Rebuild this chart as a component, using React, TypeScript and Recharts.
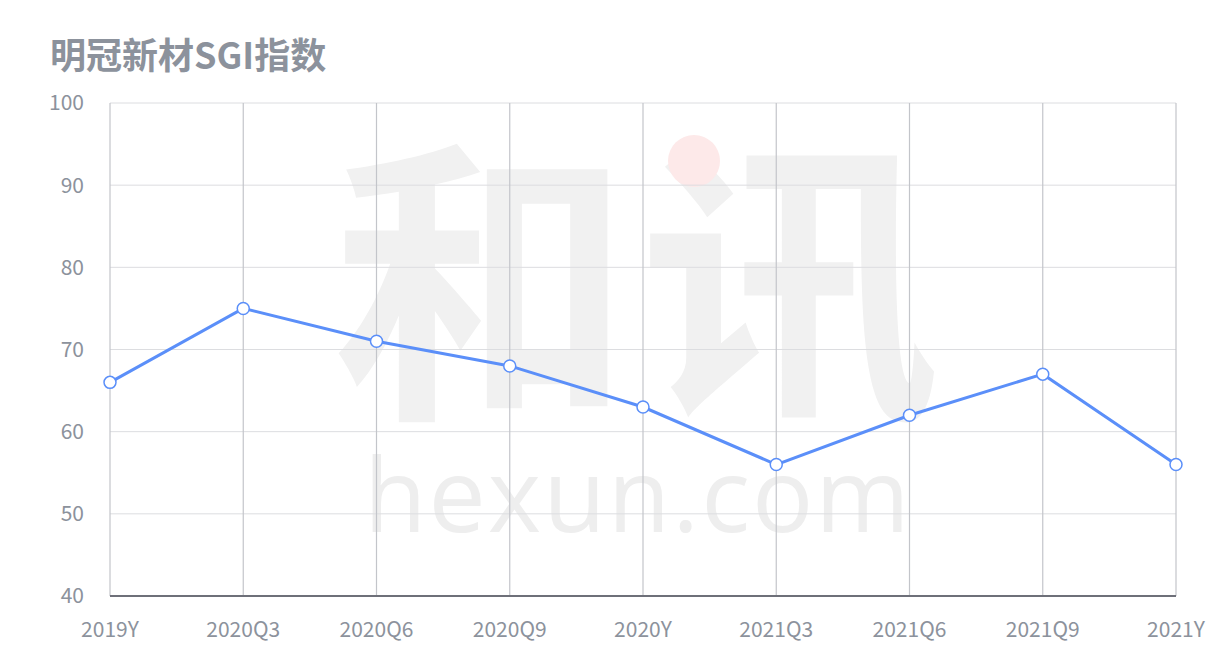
import React from 'react';
import { LineChart, Line, XAxis, YAxis, CartesianGrid } from 'recharts';

const categories = ['2019Y', '2020Q3', '2020Q6', '2020Q9', '2020Y', '2021Q3', '2021Q6', '2021Q9', '2021Y'];
const sgiValues = [66, 75, 71, 68, 63, 56, 62, 67, 56];
const yTicks = [40, 50, 60, 70, 80, 90, 100];

const data = categories.map((name, i) => ({ name, value: sgiValues[i] }));

const TEXT = '#8c929c';
const FONT = '"Noto Sans CJK SC", "Noto Sans", sans-serif';

export default function App() {
  return (
    <div style={{ position: 'absolute', left: 0, top: 0, width: 1223, height: 671, background: '#fff', fontFamily: FONT }}>
      {/* hexun watermark, drawn behind the chart */}
      <svg width={1223} height={671} style={{ position: 'absolute', left: 0, top: 0 }}>
        <text x={332} y={396} fontSize={300} fontWeight={700} fill="#f1f1f1" fontFamily={FONT} letterSpacing={8}>
          和讯
        </text>
        <circle cx={694} cy={161} r={26} fill="#fde9e9" />
        <text x={364} y={532} fontSize={102} fill="#eeeeee" fontFamily='"Open Sans", sans-serif' letterSpacing={2}>
          hexun.com
        </text>
      </svg>
      <div style={{ position: 'absolute', left: 50, top: 32, fontSize: 36, fontWeight: 700, color: TEXT, lineHeight: 1.2 }}>
        明冠新材SGI指数
      </div>
      <div style={{ position: 'absolute', left: 0, top: 0 }}>
        <LineChart width={1223} height={671} data={data} margin={{ top: 103, right: 47, bottom: 45, left: 0 }}>
          <CartesianGrid vertical={false} stroke="#dcdde0" strokeWidth={1} />
          <CartesianGrid horizontal={false} stroke="#c3c5ca" strokeWidth={1.2} />
          <XAxis
            dataKey="name"
            tickLine={false}
            axisLine={{ stroke: '#6e7079', strokeWidth: 2 }}
            tick={{ fill: TEXT, fontSize: 21, fontFamily: FONT }}
            tickMargin={20}
            interval={0}
          />
          <YAxis
            width={110}
            domain={[40, 100]}
            ticks={yTicks}
            tickLine={false}
            axisLine={false}
            tick={{ fill: TEXT, fontSize: 21, fontFamily: FONT }}
            tickMargin={20}
          />
          <Line
            type="linear"
            dataKey="value"
            stroke="#5b8ff9"
            strokeWidth={3}
            dot={{ r: 6, fill: '#fff', stroke: '#5b8ff9', strokeWidth: 1.5 }}
            isAnimationActive={false}
          />
        </LineChart>
      </div>
    </div>
  );
}
